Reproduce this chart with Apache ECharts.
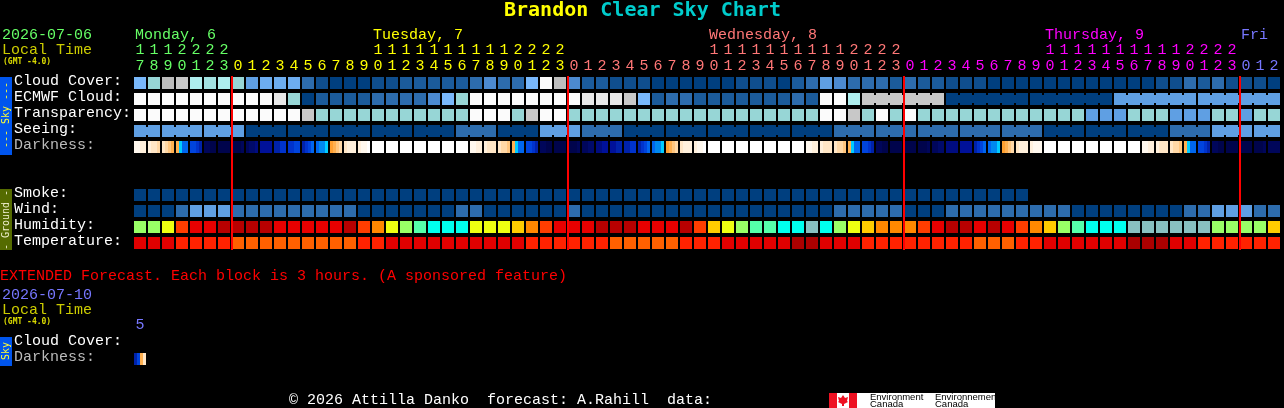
<!DOCTYPE html>
<html>
<head>
<meta charset="utf-8">
<script src="https://cdn.jsdelivr.net/npm/echarts@6/dist/echarts.min.js"></script>
<style>html,body{margin:0;padding:0;background:#000}#c{width:1284px;height:408px}</style>
</head>
<body>
<div id="c"></div>
<script>
const hours = ['17','18','19','20','21','22','23',
 '0','1','2','3','4','5','6','7','8','9','10','11','12','13','14','15','16','17','18','19','20','21','22','23',
 '0','1','2','3','4','5','6','7','8','9','10','11','12','13','14','15','16','17','18','19','20','21','22','23',
 '0','1','2','3','4','5','6','7','8','9','10','11','12','13','14','15','16','17','18','19','20','21','22','23',
 '0','1','2'];
const rowLabels = ['Cloud Cover:','ECMWF Cloud:','Transparency:','Seeing:','Darkness:',' ','  ','Smoke:','Wind:','Humidity:','Temperature:'];
const dayNames = ['Monday, 6','Tuesday, 7','Wednesday, 8','Thursday, 9','Fri'];
const dayLabelCols = [0,17,41,65,79];
const dayColors = ['#66ff66','#ffff00','#ff7777','#ff00ff','#7777ff'];
const midnightCols = [7,31,55,79];

const cloudColors = ['#003f7f','#0f4e8e','#1b5b9b','#2d6cad','#4c8ad0','#5f9fe3','#6dadf0','#79b8fb','#97d6d6','#a2e2e2','#aeeeee','#bdbdbd','#c8c8c8','#e8e8e8','#fbfbfb'];
const humidityColors = ['#99ff66','#eeff11','#ffcc00','#ff8800','#ff3d00','#e80000','#b80000','#00ffee','#55ffaa','#88c0c0'];
const temperatureColors = ['#e00000','#ff2200','#ff6000','#aa0000'];
const darknessColors = {W:'#ffffff',v:'#fff8ee',u:'#fff0dc',t:'#ffe6c6',s:'#ffd8a6',r:'#ffc67f',q:'#ffb050',p:'#ff9f30',
  c:'#00ccff',b:'#0088ee',a:'#0066ee',n:'#0044dd',m:'#0033cc',l:'#0022aa',k:'#001199',j:'#000c80',i:'#000a6a',h:'#00065a',g:'#00044c'};

const cloudCover = [7,8,11,12,10,9,10,8,5,6,6,6,3,1,0,0,0,1,1,2,2,2,2,2,3,4,3,3,7,14,11,4,2,2,1,1,1,0,0,0,0,0,0,1,1,1,0,2,3,5,4,3,3,3,2,3,2,2,1,1,1,0,0,0,0,0,0,0,0,0,0,0,0,1,1,3,2,3,1,1,1,0];
const ecmwfCloud = [14,14,14,14,14,14,14,14,14,14,13,8,0,2,2,2,2,3,3,3,3,4,7,8,14,14,14,14,14,14,14,14,13,13,13,12,7,2,3,3,2,2,2,2,2,2,2,3,2,14,14,10,12,12,12,12,12,12,0,0,0,0,0,0,0,0,0,0,0,0,5,5,5,5,5,5,5,5,5,5,5,5];
const transparency = [14,14,14,14,14,14,14,14,14,14,14,14,12,8,8,8,8,8,8,8,8,8,8,8,14,14,14,8,12,14,14,8,8,8,8,8,8,8,8,8,8,8,8,8,8,8,8,8,8,14,14,12,8,14,8,14,8,8,8,8,8,8,8,8,8,8,8,8,5,5,5,8,8,8,5,5,5,8,8,5,8,8];
const seeing = [5,5,5,5,5,5,5,5,0,0,0,0,0,0,0,0,0,0,0,0,0,0,0,3,3,3,0,0,0,5,5,5,3,3,3,0,0,0,0,0,0,0,0,0,0,0,0,0,0,0,3,3,3,3,3,3,3,3,3,3,3,3,3,3,3,0,0,0,0,0,0,0,0,0,3,3,3,5,5,5,5,5];
const smoke = [0,0,0,0,0,0,0,0,0,0,0,0,0,0,0,0,0,0,0,0,0,0,0,0,0,0,0,0,0,0,0,0,0,0,0,0,0,0,0,0,0,0,0,0,0,0,0,0,0,0,0,0,0,0,0,0,0,0,0,0,0,0,0,0];
const wind = [0,0,0,3,5,5,5,3,3,3,3,3,3,3,3,3,0,0,0,0,0,0,0,3,3,0,0,0,0,0,0,3,0,0,0,0,0,0,0,0,0,0,0,0,0,0,0,0,0,0,3,3,3,3,3,0,0,0,3,3,3,3,3,3,3,3,3,0,0,0,0,0,0,0,0,3,3,5,5,5,3,3];
const humidity = [0,0,1,4,5,5,6,6,6,6,5,5,5,5,5,6,4,3,1,0,8,7,7,7,1,1,1,2,3,4,5,5,5,6,6,6,5,5,5,6,4,2,1,0,8,8,7,7,9,7,0,1,2,3,3,3,4,5,6,6,5,6,5,4,3,2,0,8,7,7,7,9,9,9,9,9,9,0,0,0,0,2];
const temperature = [0,0,0,1,1,1,1,2,2,2,2,2,2,2,2,2,1,1,0,0,0,0,0,0,0,0,0,0,1,1,1,1,1,1,2,2,2,2,2,1,1,1,0,0,0,0,0,3,3,0,0,0,1,1,1,1,1,1,1,1,2,2,2,1,1,0,0,0,0,0,0,3,3,3,0,0,1,1,1,1,1,1];
const darkness = ['vvuu','utts','tsrq','qcaa','nnml','hhgg','gggg','gggh','hiij','kkkk','llmm','mmnn','lmna','abbc','pqrs','tuuu','uvvW','WWWW','WWWW','WWWW','WWWW','WWWW','WWWW','WWWW',
 'vvuu','uttt','tssr','qcaa','nnml','hhgg','gggg','gggh','hhii','jjkk','kkll','llmm','lmna','abbc','pqrs','tuuu','uvvW','WWWW','WWWW','WWWW','WWWW','WWWW','WWWW','WWWW',
 'vvuu','uttt','tssr','qcaa','nnml','hhgg','gggg','gggg','gggh','hhii','jjjj','kkkk','lmna','abbc','pqrs','tuuu','uvvv','WWWW','WWWW','WWWW','WWWW','WWWW','WWWW','WWWW',
 'vvuu','uttt','tssr','qcaa','nnml','hhgg','gggg','gggg','gggh','hhhh'];
const seeingRuns = [2,3,3,3,3,3,3,3,3,3,3,3,3,3,3,3,3,3,3,3,3,3,3,3,3,3,3,2];
const ecmwfRuns = [1,1,1,1,1,1,1,1,1,1,1,1,1,1,1,1,1,1,1,1,1,1,1,1,1,1,1,1,1,1,1,1,1,1,1,1,1,1,1,1,1,1,1,1,1,1,1,1,1,1,1,1,6,6,6,6,6];
const extHours = ['5'];
const extRowLabels = ['Cloud Cover:','Darkness:'];
const extDarkness = ['lnqt'];

const MONO = '"Liberation Mono", monospace';
const DJV = '"DejaVu Sans Mono", monospace';
const rowIndex = n => rowLabels.indexOf(n);

function joinedFlags(runs){
  const f = [];
  runs.forEach(r => { for (let i = 0; i < r; i++) f.push(i < r - 1 ? 1 : 0); });
  return f;
}
function cellRender(colors, joins){
  return function(params, api){
    const col = api.value(0), row = api.value(1), v = api.value(2);
    const c = api.coord([col, row]), s = api.size([1, 1]);
    const w = s[0] - 2, h = s[1] - 4;
    const x = c[0] - w / 2, y = c[1] - h / 2;
    const kids = [{type:'rect', shape:{x, y, width:w, height:h}, style:{fill:colors[v]}}];
    if (joins && joins[col]) kids.push({type:'rect', shape:{x:x + w, y:y + 2, width:2, height:h - 4}, style:{fill:colors[v]}});
    return {type:'group', children:kids};
  };
}
function rowSeries(name, values, colors, runs){
  const r = rowIndex(name), joins = runs ? joinedFlags(runs) : null;
  return {type:'custom', name, xAxisIndex:0, yAxisIndex:0, silent:true,
    data: values.map((v, i) => [i, r, v]),
    renderItem: cellRender(colors, joins)};
}
function darkSeries(name, values, xi, yi, row){
  return {type:'custom', name, xAxisIndex:xi, yAxisIndex:yi, silent:true,
    data: values.map((v, i) => [i, row, v]),
    renderItem: function(params, api){
      const col = api.value(0), rw = api.value(1);
      const codes = values[col];
      const c = api.coord([col, rw]), s = api.size([1, 1]);
      const w = s[0] - 2, h = s[1] - 4, x = c[0] - w / 2, y = c[1] - h / 2, sw = w / codes.length;
      return {type:'group', children: codes.split('').map((k, i) => ({
        type:'rect', shape:{x:x + i * sw, y, width:sw, height:h}, style:{fill:darknessColors[k]}}))};
    }};
}
const dayColorAt = i => { let d = 0; midnightCols.forEach((m, k) => { if (i >= m) d = k + 1; }); return dayColors[d]; };
const txt = (text, x, y, fill) => ({type:'text', x, y, silent:true,
  style:{text, fill, font:'15px ' + MONO, align:'left', verticalAlign:'middle'}});
const gmt = (x, y) => ({type:'text', x, y, silent:true,
  style:{text:'(GMT -4.0)', fill:'#dddd00', font:'bold 8px ' + DJV, align:'left', verticalAlign:'middle'}});
const vtxt = (text, x, y, fill) => ({type:'text', x, y, rotation:Math.PI/2, silent:true,
  style:{text, fill, font:'10px ' + DJV, align:'center', verticalAlign:'middle'}});
const rect = (x, y, w, h, fill) => ({type:'rect', silent:true, shape:{x, y, width:w, height:h}, style:{fill}});
const rowLabelStyle = {interval:0, align:'left', margin:119, fontFamily:MONO, fontSize:15, verticalAlign:'bottom', lineHeight:4,
  color:v => v === 'Darkness:' ? '#bbbbbb' : '#ffffff'};

const option = {
  animation:false,
  backgroundColor:'#000',
  title:{left:504, top:1, padding:0, text:'{a|Brandon }{b|Clear Sky Chart}', textStyle:{rich:{
    a:{color:'#ffff00', fontFamily:DJV, fontSize:20, fontWeight:'bold'},
    b:{color:'#00cccc', fontFamily:DJV, fontSize:20, fontWeight:'bold'}}}},
  grid:[
    {left:133, top:75, width:1148, height:176, containLabel:false},
    {left:133, top:335, width:14, height:32, containLabel:false}
  ],
  xAxis:[
    {type:'category', gridIndex:0, position:'top', data:hours.map((h, i) => i), axisLine:{show:false}, axisTick:{show:false}, splitLine:{show:false},
     axisLabel:{interval:0, margin:1, fontFamily:MONO, fontSize:15, lineHeight:16,
       formatter:(v, i) => { const h = hours[i]; return h.length === 2 ? h[0] + '\n' + h[1] : ' \n' + h; },
       color:(v, i) => dayColorAt(i)}},
    {type:'category', gridIndex:1, position:'top', data:extHours, axisLine:{show:false}, axisTick:{show:false}, splitLine:{show:false},
     axisLabel:{interval:0, margin:2, fontFamily:MONO, fontSize:15, color:'#7777ff'}}
  ],
  yAxis:[
    {type:'category', gridIndex:0, inverse:true, data:rowLabels, axisLine:{show:false}, axisTick:{show:false}, splitLine:{show:false}, axisLabel:rowLabelStyle},
    {type:'category', gridIndex:1, inverse:true, data:extRowLabels, axisLine:{show:false}, axisTick:{show:false}, splitLine:{show:false}, axisLabel:rowLabelStyle}
  ],
  graphic:{elements:[
    txt('2026-07-06', 2, 35, '#66ff66'),
    txt('Local Time', 2, 50, '#cccc00'),
    gmt(3, 62),
    rect(0, 77, 12, 78, '#0055ee'),
    vtxt('--- Sky ---', 6, 115, '#ffff33'),
    rect(0, 189, 12, 61, '#556b00'),
    vtxt('- Ground -', 6, 220, '#eeeecc'),
    txt('EXTENDED Forecast. Each block is 3 hours. (A sponsored feature)', 0, 276, '#ff0000'),
    txt('2026-07-10', 2, 295, '#7777ff'),
    txt('Local Time', 2, 310, '#cccc00'),
    gmt(3, 322),
    rect(0, 337, 12, 29, '#0055ee'),
    vtxt('Sky', 6, 351, '#ffff33'),
    txt('\u00a9 2026 Attilla Danko  forecast: A.Rahill  data:', 289, 400, '#ffffff'),
    rect(829, 393, 166, 15, '#ffffff'),
    rect(829, 393, 8, 15, '#ee1122'),
    rect(849, 393, 8, 15, '#ee1122'),
    {type:'polygon', silent:true, shape:{points:[[843,395],[845,398],[848,397],[847,401],[848,402],[844,404],[844,406],[842,406],[842,404],[838,402],[839,401],[838,397],[841,398]]}, style:{fill:'#ee1122'}},
    {type:'text', x:870, y:397, silent:true, style:{text:'Environment', fill:'#000', font:'9.5px "Liberation Sans"', verticalAlign:'middle'}},
    {type:'text', x:870, y:404, silent:true, style:{text:'Canada', fill:'#000', font:'9.5px "Liberation Sans"', verticalAlign:'middle'}},
    {type:'text', x:935, y:397, silent:true, style:{text:'Environnement', fill:'#000', font:'9.5px "Liberation Sans"', verticalAlign:'middle'}},
    {type:'text', x:935, y:404, silent:true, style:{text:'Canada', fill:'#000', font:'9.5px "Liberation Sans"', verticalAlign:'middle'}}
  ]},
  series:[
    rowSeries('Cloud Cover:', cloudCover, cloudColors),
    rowSeries('ECMWF Cloud:', ecmwfCloud, cloudColors, ecmwfRuns),
    rowSeries('Transparency:', transparency, cloudColors),
    rowSeries('Seeing:', seeing, cloudColors, seeingRuns),
    darkSeries('Darkness:', darkness, 0, 0, rowIndex('Darkness:')),
    rowSeries('Smoke:', smoke, cloudColors),
    rowSeries('Wind:', wind, cloudColors),
    rowSeries('Humidity:', humidity, humidityColors),
    rowSeries('Temperature:', temperature, temperatureColors),
    darkSeries('Extended Darkness', extDarkness, 1, 1, 1),
    {type:'custom', name:'Midnight', xAxisIndex:0, yAxisIndex:0, silent:true, z:5,
     data:midnightCols.map(c => [c, 0]),
     renderItem:function(params, api){
       const top = api.coord([api.value(0), 0]), bot = api.coord([api.value(0), rowLabels.length - 1]), s = api.size([1, 1]);
       return {type:'rect', shape:{x:top[0] - s[0] / 2, y:top[1] - s[1] / 2 + 1, width:2, height:bot[1] - top[1] + s[1] - 2}, style:{fill:'#ff0000'}};
     }},
    {type:'custom', name:'Day labels', xAxisIndex:0, yAxisIndex:0, silent:true,
     data:dayLabelCols.map((c, i) => [c, 0, i]),
     renderItem:function(params, api){
       const c = api.coord([api.value(0), 0]), s = api.size([1, 1]), i = api.value(2);
       return {type:'text', x:c[0] - s[0] / 2 + 2, y:c[1] - 48,
         style:{text:dayNames[i], fill:dayColors[i], font:'15px ' + MONO, align:'left', verticalAlign:'middle'}};
     }}
  ]
};
const chart = echarts.init(document.getElementById('c'), null, {renderer:'canvas', width:1284, height:408});
chart.setOption(option);
</script>
</body>
</html>
